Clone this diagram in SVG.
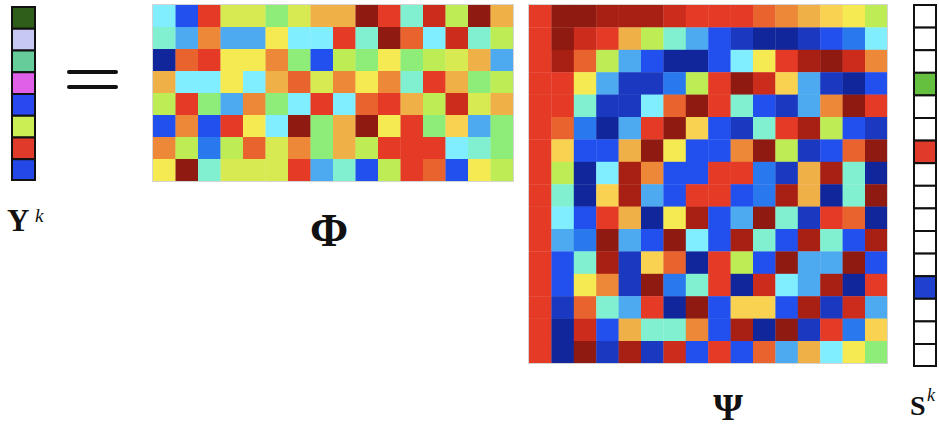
<svg xmlns="http://www.w3.org/2000/svg" width="939" height="428" viewBox="0 0 939 428">
<style>
.phi rect{width:22.8px;height:22.3px}
.psi rect{width:22.7px;height:22.7px}
.r{fill:#E43A26}.dr{fill:#8E1A12}.mr{fill:#A82014}.rd{fill:#CC2C1C}
.o{fill:#EC8838}.or{fill:#E8632E}.oy{fill:#F0B048}.yo{fill:#F8D250}
.y{fill:#F6EA52}.yl{fill:#D8EA52}.yg{fill:#BEEC55}.lg{fill:#8EEC78}
.aq{fill:#80F0D0}.c{fill:#80EEFF}.lb{fill:#4EAAF0}.bl{fill:#2A78EE}
.b{fill:#2250EE}.db{fill:#1A38C0}.n{fill:#12269C}
.cell{stroke:#111;stroke-width:2}
.lbl{font-family:"Liberation Serif","DejaVu Serif",serif;font-weight:bold;fill:#111}
.sup{font-family:"Liberation Serif","DejaVu Serif",serif;font-style:italic;fill:#111}
.frame{fill:none;stroke:#d4d4d4;stroke-width:1}
</style>
<rect width="939" height="428" fill="#fff"/>

<g id="Yk">
<rect class="cell" x="12" y="7" width="23" height="21.75" fill="#2F5E1A"/>
<rect class="cell" x="12" y="28.75" width="23" height="21.75" fill="#C8C8F5"/>
<rect class="cell" x="12" y="50.5" width="23" height="21.75" fill="#66CC99"/>
<rect class="cell" x="12" y="72.25" width="23" height="21.75" fill="#E060E8"/>
<rect class="cell" x="12" y="94" width="23" height="21.75" fill="#2A48F0"/>
<rect class="cell" x="12" y="115.75" width="23" height="21.75" fill="#CCEE55"/>
<rect class="cell" x="12" y="137.5" width="23" height="21.75" fill="#E03A2A"/>
<rect class="cell" x="12" y="159.25" width="23" height="20.75" fill="#2448E8"/>
<text class="lbl" x="7" y="231" font-size="31">Y<tspan class="sup" font-weight="normal" font-size="19" x="35" dy="-9">k</tspan></text>
</g>

<g id="equals">
<rect x="67" y="70" width="51" height="4" rx="2" fill="#111"/>
<rect x="67" y="85" width="51" height="4" rx="2" fill="#111"/>
</g>

<g id="Phi" class="phi">
<g transform="translate(0,5)">
<rect class="c" x="153"/><rect class="b" x="175.5"/><rect class="r" x="198"/><rect class="yl" x="220.5"/><rect class="yl" x="243"/><rect class="lg" x="265.5"/><rect class="yl" x="288"/><rect class="oy" x="310.5"/><rect class="oy" x="333"/><rect class="dr" x="355.5"/><rect class="r" x="378"/><rect class="aq" x="400.5"/><rect class="rd" x="423"/><rect class="yg" x="445.5"/><rect class="dr" x="468"/><rect class="oy" x="490.5"/>
</g>
<g transform="translate(0,27)">
<rect class="aq" x="153"/><rect class="lb" x="175.5"/><rect class="o" x="198"/><rect class="lb" x="220.5"/><rect class="lb" x="243"/><rect class="y" x="265.5"/><rect class="c" x="288"/><rect class="c" x="310.5"/><rect class="r" x="333"/><rect class="aq" x="355.5"/><rect class="dr" x="378"/><rect class="or" x="400.5"/><rect class="c" x="423"/><rect class="rd" x="445.5"/><rect class="aq" x="468"/><rect class="yg" x="490.5"/>
</g>
<g transform="translate(0,49)">
<rect class="n" x="153"/><rect class="or" x="175.5"/><rect class="r" x="198"/><rect class="y" x="220.5"/><rect class="y" x="243"/><rect class="o" x="265.5"/><rect class="lg" x="288"/><rect class="b" x="310.5"/><rect class="yg" x="333"/><rect class="lg" x="355.5"/><rect class="y" x="378"/><rect class="lg" x="400.5"/><rect class="yg" x="423"/><rect class="yl" x="445.5"/><rect class="oy" x="468"/><rect class="lb" x="490.5"/>
</g>
<g transform="translate(0,71)">
<rect class="oy" x="153"/><rect class="c" x="175.5"/><rect class="c" x="198"/><rect class="y" x="220.5"/><rect class="c" x="243"/><rect class="oy" x="265.5"/><rect class="or" x="288"/><rect class="yl" x="310.5"/><rect class="o" x="333"/><rect class="y" x="355.5"/><rect class="o" x="378"/><rect class="aq" x="400.5"/><rect class="r" x="423"/><rect class="oy" x="445.5"/><rect class="lg" x="468"/><rect class="yg" x="490.5"/>
</g>
<g transform="translate(0,93)">
<rect class="yg" x="153"/><rect class="r" x="175.5"/><rect class="lg" x="198"/><rect class="lb" x="220.5"/><rect class="o" x="243"/><rect class="lg" x="265.5"/><rect class="c" x="288"/><rect class="r" x="310.5"/><rect class="c" x="333"/><rect class="or" x="355.5"/><rect class="r" x="378"/><rect class="oy" x="400.5"/><rect class="yg" x="423"/><rect class="rd" x="445.5"/><rect class="yl" x="468"/><rect class="oy" x="490.5"/>
</g>
<g transform="translate(0,115)">
<rect class="b" x="153"/><rect class="o" x="175.5"/><rect class="b" x="198"/><rect class="r" x="220.5"/><rect class="y" x="243"/><rect class="c" x="265.5"/><rect class="dr" x="288"/><rect class="lg" x="310.5"/><rect class="oy" x="333"/><rect class="dr" x="355.5"/><rect class="y" x="378"/><rect class="r" x="400.5"/><rect class="lg" x="423"/><rect class="yo" x="445.5"/><rect class="lb" x="468"/><rect class="lg" x="490.5"/>
</g>
<g transform="translate(0,137)">
<rect class="o" x="153"/><rect class="yg" x="175.5"/><rect class="bl" x="198"/><rect class="yg" x="220.5"/><rect class="or" x="243"/><rect class="yl" x="265.5"/><rect class="o" x="288"/><rect class="lg" x="310.5"/><rect class="oy" x="333"/><rect class="yg" x="355.5"/><rect class="r" x="378"/><rect class="r" x="400.5"/><rect class="r" x="423"/><rect class="c" x="445.5"/><rect class="aq" x="468"/><rect class="lg" x="490.5"/>
</g>
<g transform="translate(0,159)">
<rect class="y" x="153"/><rect class="dr" x="175.5"/><rect class="aq" x="198"/><rect class="yl" x="220.5"/><rect class="yl" x="243"/><rect class="yl" x="265.5"/><rect class="r" x="288"/><rect class="lb" x="310.5"/><rect class="aq" x="333"/><rect class="b" x="355.5"/><rect class="yg" x="378"/><rect class="r" x="400.5"/><rect class="or" x="423"/><rect class="b" x="445.5"/><rect class="y" x="468"/><rect class="yg" x="490.5"/>
</g>
<rect class="frame" x="152.5" y="4.5" width="361" height="177" style="width:361px;height:177px"/>
<text class="lbl" x="329" y="246" font-size="46" text-anchor="middle">Φ</text>
</g>

<g id="Psi" class="psi">
<g transform="translate(0,5)">
<rect class="r" x="529"/><rect class="dr" x="551.4"/><rect class="dr" x="573.8"/><rect class="mr" x="596.2"/><rect class="mr" x="618.6"/><rect class="mr" x="641"/><rect class="rd" x="663.4"/><rect class="r" x="685.8"/><rect class="r" x="708.2"/><rect class="r" x="730.6"/><rect class="or" x="753"/><rect class="o" x="775.4"/><rect class="oy" x="797.8"/><rect class="yo" x="820.2"/><rect class="y" x="842.6"/><rect class="yg" x="865"/>
</g>
<g transform="translate(0,27.4)">
<rect class="r" x="529"/><rect class="dr" x="551.4"/><rect class="rd" x="573.8"/><rect class="r" x="596.2"/><rect class="oy" x="618.6"/><rect class="yg" x="641"/><rect class="aq" x="663.4"/><rect class="lb" x="685.8"/><rect class="b" x="708.2"/><rect class="db" x="730.6"/><rect class="n" x="753"/><rect class="n" x="775.4"/><rect class="db" x="797.8"/><rect class="b" x="820.2"/><rect class="bl" x="842.6"/><rect class="c" x="865"/>
</g>
<g transform="translate(0,49.8)">
<rect class="r" x="529"/><rect class="mr" x="551.4"/><rect class="or" x="573.8"/><rect class="yg" x="596.2"/><rect class="lb" x="618.6"/><rect class="b" x="641"/><rect class="n" x="663.4"/><rect class="n" x="685.8"/><rect class="b" x="708.2"/><rect class="c" x="730.6"/><rect class="y" x="753"/><rect class="r" x="775.4"/><rect class="mr" x="797.8"/><rect class="dr" x="820.2"/><rect class="rd" x="842.6"/><rect class="o" x="865"/>
</g>
<g transform="translate(0,72.2)">
<rect class="r" x="529"/><rect class="r" x="551.4"/><rect class="y" x="573.8"/><rect class="lb" x="596.2"/><rect class="db" x="618.6"/><rect class="db" x="641"/><rect class="bl" x="663.4"/><rect class="yg" x="685.8"/><rect class="r" x="708.2"/><rect class="dr" x="730.6"/><rect class="rd" x="753"/><rect class="yo" x="775.4"/><rect class="lb" x="797.8"/><rect class="db" x="820.2"/><rect class="n" x="842.6"/><rect class="b" x="865"/>
</g>
<g transform="translate(0,94.6)">
<rect class="r" x="529"/><rect class="r" x="551.4"/><rect class="aq" x="573.8"/><rect class="db" x="596.2"/><rect class="db" x="618.6"/><rect class="c" x="641"/><rect class="or" x="663.4"/><rect class="dr" x="685.8"/><rect class="r" x="708.2"/><rect class="aq" x="730.6"/><rect class="b" x="753"/><rect class="db" x="775.4"/><rect class="lb" x="797.8"/><rect class="o" x="820.2"/><rect class="dr" x="842.6"/><rect class="r" x="865"/>
</g>
<g transform="translate(0,117)">
<rect class="r" x="529"/><rect class="or" x="551.4"/><rect class="bl" x="573.8"/><rect class="n" x="596.2"/><rect class="lb" x="618.6"/><rect class="r" x="641"/><rect class="dr" x="663.4"/><rect class="yo" x="685.8"/><rect class="b" x="708.2"/><rect class="db" x="730.6"/><rect class="aq" x="753"/><rect class="r" x="775.4"/><rect class="mr" x="797.8"/><rect class="yg" x="820.2"/><rect class="b" x="842.6"/><rect class="db" x="865"/>
</g>
<g transform="translate(0,139.4)">
<rect class="r" x="529"/><rect class="yo" x="551.4"/><rect class="b" x="573.8"/><rect class="b" x="596.2"/><rect class="oy" x="618.6"/><rect class="dr" x="641"/><rect class="y" x="663.4"/><rect class="b" x="685.8"/><rect class="b" x="708.2"/><rect class="o" x="730.6"/><rect class="dr" x="753"/><rect class="yg" x="775.4"/><rect class="db" x="797.8"/><rect class="b" x="820.2"/><rect class="or" x="842.6"/><rect class="dr" x="865"/>
</g>
<g transform="translate(0,161.8)">
<rect class="r" x="529"/><rect class="yg" x="551.4"/><rect class="n" x="573.8"/><rect class="c" x="596.2"/><rect class="mr" x="618.6"/><rect class="o" x="641"/><rect class="b" x="663.4"/><rect class="b" x="685.8"/><rect class="r" x="708.2"/><rect class="r" x="730.6"/><rect class="bl" x="753"/><rect class="db" x="775.4"/><rect class="oy" x="797.8"/><rect class="mr" x="820.2"/><rect class="aq" x="842.6"/><rect class="n" x="865"/>
</g>
<g transform="translate(0,184.2)">
<rect class="r" x="529"/><rect class="aq" x="551.4"/><rect class="n" x="573.8"/><rect class="yo" x="596.2"/><rect class="mr" x="618.6"/><rect class="lb" x="641"/><rect class="b" x="663.4"/><rect class="r" x="685.8"/><rect class="r" x="708.2"/><rect class="b" x="730.6"/><rect class="bl" x="753"/><rect class="mr" x="775.4"/><rect class="oy" x="797.8"/><rect class="n" x="820.2"/><rect class="aq" x="842.6"/><rect class="dr" x="865"/>
</g>
<g transform="translate(0,206.6)">
<rect class="r" x="529"/><rect class="c" x="551.4"/><rect class="b" x="573.8"/><rect class="r" x="596.2"/><rect class="oy" x="618.6"/><rect class="n" x="641"/><rect class="y" x="663.4"/><rect class="mr" x="685.8"/><rect class="b" x="708.2"/><rect class="lb" x="730.6"/><rect class="dr" x="753"/><rect class="aq" x="775.4"/><rect class="db" x="797.8"/><rect class="r" x="820.2"/><rect class="or" x="842.6"/><rect class="n" x="865"/>
</g>
<g transform="translate(0,229)">
<rect class="r" x="529"/><rect class="lb" x="551.4"/><rect class="bl" x="573.8"/><rect class="dr" x="596.2"/><rect class="lb" x="618.6"/><rect class="b" x="641"/><rect class="dr" x="663.4"/><rect class="c" x="685.8"/><rect class="b" x="708.2"/><rect class="mr" x="730.6"/><rect class="aq" x="753"/><rect class="b" x="775.4"/><rect class="mr" x="797.8"/><rect class="aq" x="820.2"/><rect class="b" x="842.6"/><rect class="mr" x="865"/>
</g>
<g transform="translate(0,251.4)">
<rect class="r" x="529"/><rect class="b" x="551.4"/><rect class="aq" x="573.8"/><rect class="mr" x="596.2"/><rect class="db" x="618.6"/><rect class="yo" x="641"/><rect class="or" x="663.4"/><rect class="n" x="685.8"/><rect class="r" x="708.2"/><rect class="yg" x="730.6"/><rect class="b" x="753"/><rect class="dr" x="775.4"/><rect class="lb" x="797.8"/><rect class="lb" x="820.2"/><rect class="dr" x="842.6"/><rect class="b" x="865"/>
</g>
<g transform="translate(0,273.8)">
<rect class="r" x="529"/><rect class="b" x="551.4"/><rect class="y" x="573.8"/><rect class="o" x="596.2"/><rect class="db" x="618.6"/><rect class="dr" x="641"/><rect class="bl" x="663.4"/><rect class="aq" x="685.8"/><rect class="r" x="708.2"/><rect class="n" x="730.6"/><rect class="rd" x="753"/><rect class="c" x="775.4"/><rect class="lb" x="797.8"/><rect class="mr" x="820.2"/><rect class="n" x="842.6"/><rect class="r" x="865"/>
</g>
<g transform="translate(0,296.2)">
<rect class="r" x="529"/><rect class="db" x="551.4"/><rect class="or" x="573.8"/><rect class="aq" x="596.2"/><rect class="lb" x="618.6"/><rect class="r" x="641"/><rect class="n" x="663.4"/><rect class="dr" x="685.8"/><rect class="b" x="708.2"/><rect class="yo" x="730.6"/><rect class="yo" x="753"/><rect class="b" x="775.4"/><rect class="mr" x="797.8"/><rect class="db" x="820.2"/><rect class="rd" x="842.6"/><rect class="lb" x="865"/>
</g>
<g transform="translate(0,318.6)">
<rect class="r" x="529"/><rect class="n" x="551.4"/><rect class="rd" x="573.8"/><rect class="b" x="596.2"/><rect class="oy" x="618.6"/><rect class="aq" x="641"/><rect class="aq" x="663.4"/><rect class="o" x="685.8"/><rect class="b" x="708.2"/><rect class="mr" x="730.6"/><rect class="n" x="753"/><rect class="dr" x="775.4"/><rect class="db" x="797.8"/><rect class="r" x="820.2"/><rect class="bl" x="842.6"/><rect class="yo" x="865"/>
</g>
<g transform="translate(0,341)">
<rect class="r" x="529"/><rect class="n" x="551.4"/><rect class="dr" x="573.8"/><rect class="db" x="596.2"/><rect class="mr" x="618.6"/><rect class="db" x="641"/><rect class="rd" x="663.4"/><rect class="b" x="685.8"/><rect class="r" x="708.2"/><rect class="b" x="730.6"/><rect class="or" x="753"/><rect class="lb" x="775.4"/><rect class="oy" x="797.8"/><rect class="c" x="820.2"/><rect class="y" x="842.6"/><rect class="lg" x="865" style="height:22.4px"/>
</g>
<rect class="frame" x="528.5" y="4.5" width="359" height="359" style="width:359px;height:359px"/>
<text class="lbl" x="728" y="420" font-size="38" text-anchor="middle">Ψ</text>
</g>

<g id="Sk">
<rect class="cell" x="914" y="5" width="22" height="22.6" fill="#fff"/>
<rect class="cell" x="914" y="27.6" width="22" height="22.6" fill="#fff"/>
<rect class="cell" x="914" y="50.2" width="22" height="22.6" fill="#fff"/>
<rect class="cell" x="914" y="72.8" width="22" height="22.6" fill="#66C040"/>
<rect class="cell" x="914" y="95.4" width="22" height="22.6" fill="#fff"/>
<rect class="cell" x="914" y="118" width="22" height="22.6" fill="#fff"/>
<rect class="cell" x="914" y="140.6" width="22" height="22.6" fill="#E03A2A"/>
<rect class="cell" x="914" y="163.2" width="22" height="22.6" fill="#fff"/>
<rect class="cell" x="914" y="185.8" width="22" height="22.6" fill="#fff"/>
<rect class="cell" x="914" y="208.4" width="22" height="22.6" fill="#fff"/>
<rect class="cell" x="914" y="231" width="22" height="22.6" fill="#fff"/>
<rect class="cell" x="914" y="253.6" width="22" height="22.6" fill="#fff"/>
<rect class="cell" x="914" y="276.2" width="22" height="22.6" fill="#2040D0"/>
<rect class="cell" x="914" y="298.8" width="22" height="22.6" fill="#fff"/>
<rect class="cell" x="914" y="321.4" width="22" height="22.6" fill="#fff"/>
<rect class="cell" x="914" y="344" width="22" height="22" fill="#fff"/>
<text class="lbl" x="910" y="415" font-size="28">S<tspan class="sup" font-weight="normal" font-size="18" x="927" dy="-14">k</tspan></text>
</g>
</svg>
